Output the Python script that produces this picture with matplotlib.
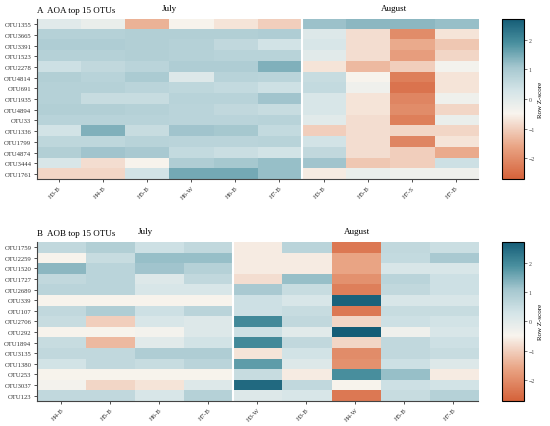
import numpy as np
import matplotlib
matplotlib.use("Agg")
import matplotlib.pyplot as plt
from matplotlib.colors import LinearSegmentedColormap

# ---------------------------------------
# Data (row Z-scores)
# ---------------------------------------

aoa_otus = ["OTU1355", "OTU3665", "OTU3391", "OTU1523", "OTU2278", "OTU4814",
            "OTU691", "OTU1935", "OTU4894", "OTU33", "OTU1336", "OTU1799",
            "OTU4874", "OTU3444", "OTU1761"]
aoa_samples = ["H3-B", "H4-B", "H5-B", "H6-W", "H6-B", "H7-B",
               "H3-B", "H5-B", "H7-S", "H7-B"]
aoa_n_july = 6
aoa_z = [
    [0.0, -0.2, -1.4, -0.5, -0.7, -1.0, 1.15, 1.3, 1.3, 1.2],
    [0.8, 0.8, 0.85, 0.85, 0.85, 0.9, 0.1, -0.8, -2.0, -0.7],
    [0.9, 0.9, 0.85, 0.8, 0.6, 0.3, 0.2, -0.8, -1.5, -1.1],
    [0.8, 0.8, 0.85, 0.8, 0.75, 0.75, 0.0, -0.8, -1.7, -0.9],
    [0.4, 0.6, 0.7, 0.9, 0.9, 1.4, -0.7, -1.3, -1.0, -0.4],
    [0.85, 0.75, 0.95, 0.1, 0.75, 0.7, 0.5, -0.5, -2.2, -0.7],
    [0.8, 0.8, 0.7, 0.65, 0.55, 0.4, 0.55, -0.3, -2.4, -0.7],
    [0.8, 0.5, 0.5, 0.75, 0.75, 1.1, 0.2, -0.7, -2.1, -0.3],
    [0.85, 0.85, 0.8, 0.7, 0.6, 0.5, 0.2, -0.7, -2.0, -0.9],
    [0.75, 0.75, 0.75, 0.7, 0.7, 0.75, 0.0, -0.8, -2.2, -0.2],
    [0.3, 1.4, 0.5, 1.1, 1.05, 0.55, -1.0, -0.8, -0.9, -0.9],
    [0.65, 0.65, 0.75, 0.7, 0.7, 0.75, 0.3, -0.8, -2.1, -0.7],
    [0.85, 1.1, 1.0, 0.55, 0.45, 0.3, 0.6, -0.8, -1.0, -1.5],
    [0.2, -0.8, -0.5, 0.9, 1.05, 1.2, 1.1, -1.1, -1.0, 0.4],
    [-0.9, -0.9, 0.3, 1.5, 1.5, 1.2, -0.6, -0.2, -0.3, -0.3],
]

aob_otus = ["OTU1759", "OTU2259", "OTU1520", "OTU1727", "OTU2689", "OTU339",
            "OTU107", "OTU2706", "OTU292", "OTU1894", "OTU3135", "OTU1380",
            "OTU253", "OTU3037", "OTU123"]
aob_samples = ["H4-B", "H5-B", "H6-B", "H7-B",
               "H3-W", "H3-B", "H4-W", "H5-B", "H7-B"]
aob_n_july = 4
aob_z = [
    [0.6, 0.85, 0.4, 0.6, -0.6, 0.7, -2.3, 0.6, 0.45],
    [-0.5, 0.5, 1.2, 1.2, -0.6, -0.6, -1.6, 0.55, 1.0],
    [1.3, 0.7, 1.1, 0.8, -0.6, -0.6, -1.6, 0.2, 0.2],
    [0.6, 0.7, 0.1, 0.6, -0.8, 1.2, -1.9, 0.7, 0.4],
    [0.7, 0.7, 0.2, 0.2, 1.0, 0.5, -2.2, 0.6, 0.4],
    [-0.5, -0.5, -0.5, -0.5, 0.4, 0.2, 2.6, 0.2, 0.2],
    [0.6, 0.9, 0.4, 0.7, 0.4, 0.5, -2.3, 0.5, 0.5],
    [0.5, -1.0, 0.2, 0.1, 2.0, 0.6, -0.9, 0.4, 0.3],
    [-0.5, -0.5, -0.4, 0.1, 0.4, 0.0, 2.7, -0.3, 0.2],
    [0.5, -1.3, 0.0, 0.3, 2.0, 0.6, -0.9, 0.6, 0.4],
    [0.6, 0.6, 0.9, 0.9, -0.7, 0.3, -2.0, 0.6, 0.5],
    [0.3, 0.6, 0.5, 0.7, 1.7, 0.1, -1.9, 0.4, 0.1],
    [-0.5, -0.5, -0.5, -0.5, 0.5, -0.6, 1.9, 1.2, -0.6],
    [-0.4, -0.9, -0.7, 0.1, 2.5, 0.6, -0.5, 0.4, 0.3],
    [0.6, 0.6, 0.2, 0.8, 0.1, 0.2, -2.3, 0.5, 0.8],
]

# ---------------------------------------
# Colormap
# ---------------------------------------

cmap = LinearSegmentedColormap.from_list(
    "zscore",
    [(0.0, "#d5623a"), (0.2, "#e9a383"), (0.41, "#f8f4ee"),
     (0.55, "#d5e5e8"), (0.7, "#a5c7cf"), (0.85, "#4a909f"),
     (1.0, "#155d77")]
)
vmin, vmax = -2.7, 2.7

plt.rcParams["font.family"] = "Liberation Serif"

fig = plt.figure(figsize=(5.5, 4.27), dpi=100)


def draw_panel(rect, cbar_rect, z, otus, samples, n_july, title, july_x, aug_x):
    ax = fig.add_axes(rect)
    data = np.array(z)
    im = ax.imshow(data, cmap=cmap, vmin=vmin, vmax=vmax,
                   aspect="auto", interpolation="nearest")
    ax.axvline(n_july - 0.5, color="white", lw=1.5)

    ax.set_yticks(range(len(otus)))
    ax.set_yticklabels(otus, fontsize=4.8)
    ax.set_xticks(range(len(samples)))
    ax.set_xticklabels(samples, fontsize=4.8, rotation=45,
                       ha="right", rotation_mode="anchor")
    ax.tick_params(length=2, width=0.6, colors="#333333", pad=2)
    for s in ["top", "right"]:
        ax.spines[s].set_visible(False)
    for s in ["left", "bottom"]:
        ax.spines[s].set_color("#444444")
        ax.spines[s].set_linewidth(0.8)

    ax.text(0.0, 1.03, title, transform=ax.transAxes, fontsize=6.5,
            ha="left", va="bottom")
    ax.text(july_x, 1.045, "July", transform=ax.transAxes, fontsize=6.5,
            ha="center", va="bottom")
    ax.text(aug_x, 1.045, "August", transform=ax.transAxes, fontsize=6.5,
            ha="center", va="bottom")

    cax = fig.add_axes(cbar_rect)
    cb = fig.colorbar(im, cax=cax)
    cb.set_ticks([-2, -1, 0, 1, 2])
    cb.ax.tick_params(labelsize=4.2, length=2, width=0.5, pad=1.5,
                      colors="#444444")
    cb.outline.set_linewidth(0.8)
    cb.set_label("Row Z-score", fontsize=5, labelpad=2)


draw_panel([0.067, 0.578, 0.802, 0.375], [0.913, 0.578, 0.04, 0.375],
           aoa_z, aoa_otus, aoa_samples, aoa_n_july,
           "A  AOA top 15 OTUs", 0.30, 0.81)
draw_panel([0.067, 0.059, 0.802, 0.372], [0.913, 0.059, 0.04, 0.372],
           aob_z, aob_otus, aob_samples, aob_n_july,
           "B  AOB top 15 OTUs", 0.245, 0.725)

plt.savefig("out.png", dpi=100)
